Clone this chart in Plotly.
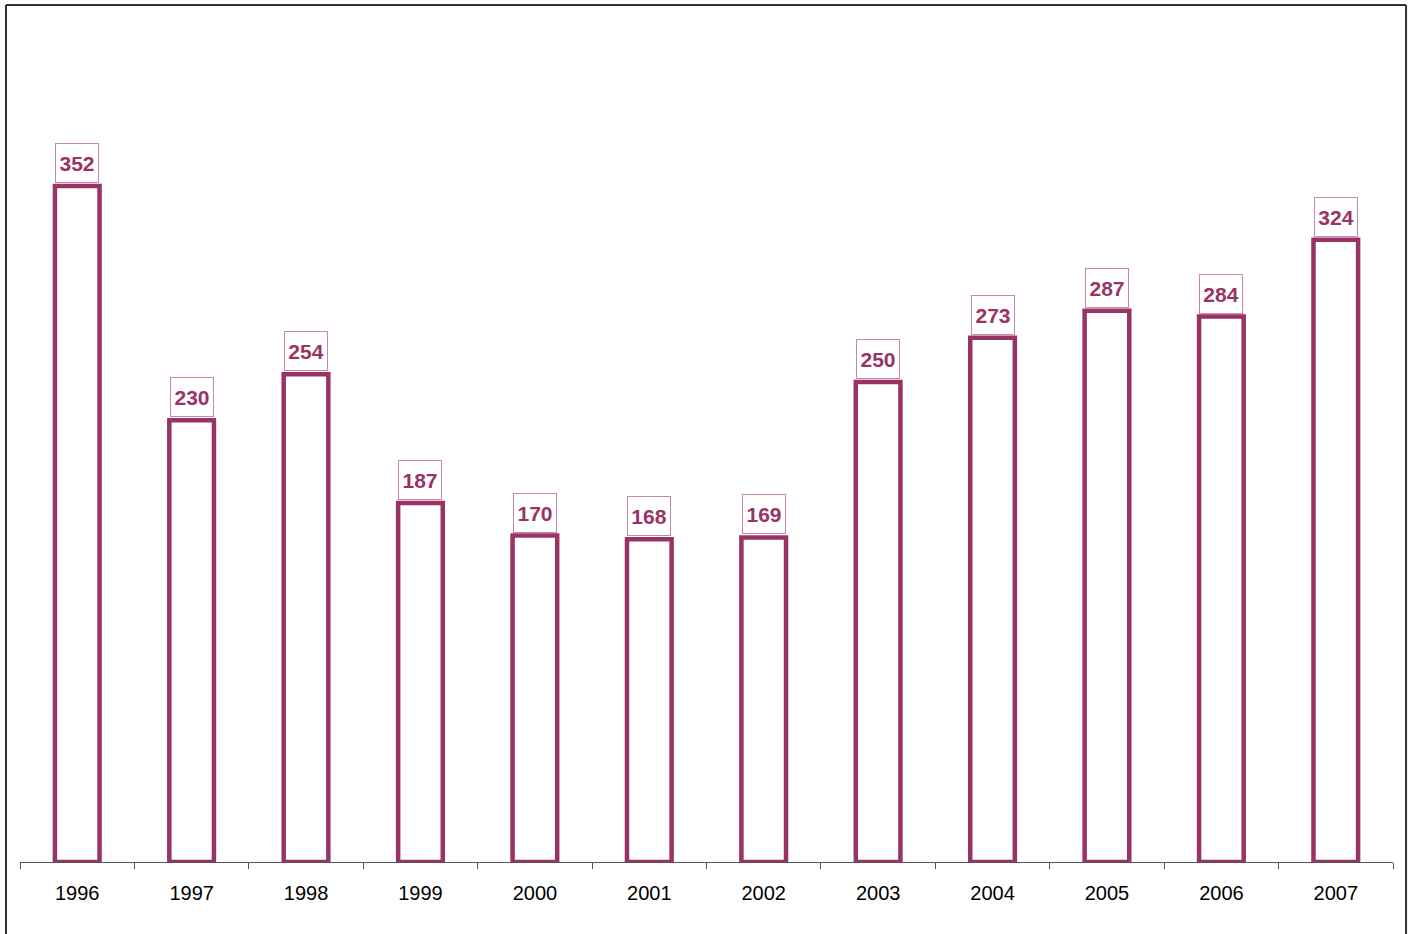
import plotly.graph_objects as go

years = ["1996", "1997", "1998", "1999", "2000", "2001", "2002",
         "2003", "2004", "2005", "2006", "2007"]
values = [352, 230, 254, 187, 170, 168, 169, 250, 273, 287, 284, 324]

BAR = "#993366"
LABEL_BORDER = "#C68AA8"

fig = go.Figure()
fig.add_trace(go.Bar(
    x=years, y=values,
    width=0.39,
    marker=dict(color="white", line=dict(color=BAR, width=4.5)),
    hoverinfo="x+y",
))

for i, v in enumerate(values):
    fig.add_annotation(
        x=i, y=v, xref="x", yref="y",
        text=f"<b>{v}</b>", showarrow=False,
        yanchor="bottom", yshift=3,
        width=36, height=32,
        font=dict(family="Liberation Sans, Arial, sans-serif", size=21, color=BAR),
        bordercolor=LABEL_BORDER, borderwidth=1, borderpad=3,
        bgcolor="white",
    )

# outer frame (left, top, right)
frame = dict(color="#333333", width=2)
fig.add_shape(type="line", xref="paper", yref="paper",
              x0=-0.0102, x1=-0.0102, y0=-0.2, y1=1.0142, line=frame)
fig.add_shape(type="line", xref="paper", yref="paper",
              x0=-0.0102, x1=1.0095, y0=1.0142, y1=1.0142, line=frame)
fig.add_shape(type="line", xref="paper", yref="paper",
              x0=1.0095, x1=1.0095, y0=-0.2, y1=1.0142, line=frame)

fig.update_layout(
    width=1409, height=934,
    margin=dict(l=20, r=16, t=17, b=72, autoexpand=False),
    paper_bgcolor="white", plot_bgcolor="white",
    showlegend=False,
    font=dict(family="Liberation Sans, Arial, sans-serif", size=20, color="black"),
)
fig.update_xaxes(
    type="category", range=[-0.5, 11.5],
    showline=True, linecolor="#555555", linewidth=1,
    ticks="outside", ticklen=6, tickcolor="#555555", tickwidth=1,
    tickson="boundaries", tickangle=0,
    showgrid=False, zeroline=False,
    tickfont=dict(size=20, color="black"),
    ticklabelstandoff=13,
)
fig.update_yaxes(
    range=[0, 440], visible=False, showgrid=False, zeroline=False,
)

fig.write_html("out.html",
               config={"displayModeBar": False},
               post_script="document.body.style.margin='0';document.body.style.overflow='hidden';")
